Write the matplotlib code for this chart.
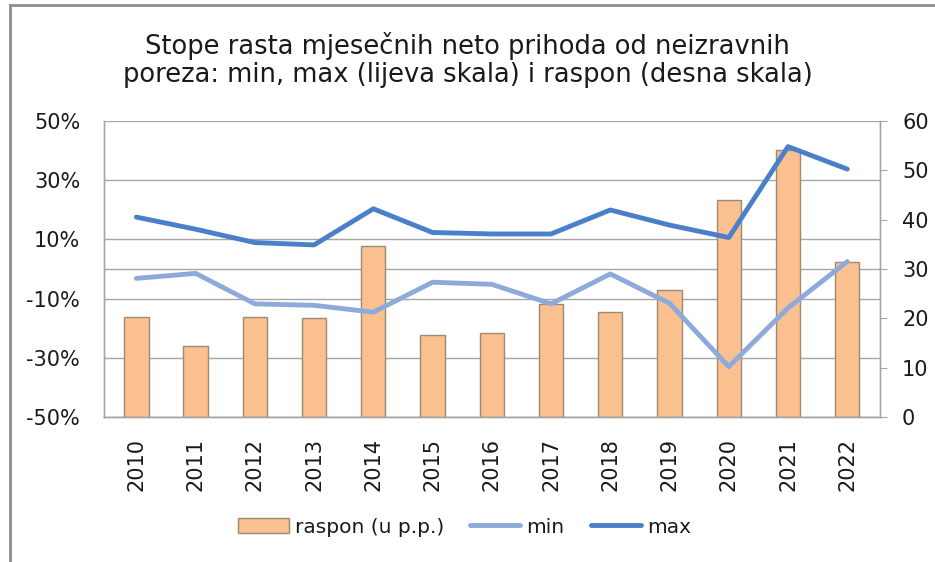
import matplotlib.pyplot as plt
from matplotlib.lines import Line2D
from matplotlib.ticker import FixedLocator

years = ["2010", "2011", "2012", "2013", "2014", "2015", "2016",
         "2017", "2018", "2019", "2020", "2021", "2022"]
raspon = [20.3, 14.4, 20.3, 20.0, 34.7, 16.7, 17.0,
          22.9, 21.3, 25.8, 44.0, 54.1, 31.4]
min_rate = [-3.2, -1.5, -11.8, -12.3, -14.6, -4.5, -5.2,
            -11.8, -1.7, -11.6, -33.0, -13.2, 2.5]
max_rate = [17.5, 13.4, 8.9, 8.1, 20.3, 12.3, 11.8,
            11.8, 19.9, 14.8, 10.6, 41.3, 33.7]
left_ticks = [-50, -30, -10, 10, 30, 50]
right_ticks = [0, 10, 20, 30, 40, 50, 60]

bar_color = "#FAC08F"
bar_edge = "#9C8A78"
min_color = "#8EAADB"
max_color = "#4A7FCA"
grid_color = "#A6A6A6"
text_color = "#1a1a1a"

fig = plt.figure(figsize=(9.35, 5.62), dpi=100)
ax = fig.add_axes([0.111, 0.258, 0.830, 0.527])
ax2 = ax.twinx()
ax.set_zorder(ax2.get_zorder() + 1)
ax.patch.set_visible(False)

x = list(range(len(years)))

# bars on the right scale
ax2.bar(x, raspon, width=0.41, color=bar_color, edgecolor=bar_edge,
        linewidth=1.0, label="raspon (u p.p.)", zorder=2)
ax2.set_ylim(0, 60)
ax2.yaxis.set_major_locator(FixedLocator(right_ticks))
ax2.tick_params(axis="y", length=5, color=grid_color, labelsize=15,
                labelcolor=text_color, pad=11)

# gridlines (left scale) behind bars, plus the 0% axis line
for v in left_ticks:
    ax2.axhline((v + 50) * 0.6, color=grid_color, lw=1.0, zorder=0)
ax2.axhline(30, color=grid_color, lw=1.0, zorder=0)

# lines on the left scale
ax.plot(x, min_rate, color=min_color, lw=3.5, label="min",
        solid_capstyle="round", zorder=3)
ax.plot(x, max_rate, color=max_color, lw=3.5, label="max",
        solid_capstyle="round", zorder=4)
ax.set_ylim(-50, 50)
ax.set_xlim(-0.55, len(years) - 0.45)
ax.yaxis.set_major_locator(FixedLocator(left_ticks))
ax.set_yticklabels([f"{v}%" for v in left_ticks])
ax.tick_params(axis="y", length=0, labelsize=15, labelcolor=text_color,
               pad=17)
ax.set_xticks(x)
ax.set_xticklabels(years, rotation=90, fontsize=15, color=text_color)
ax.tick_params(axis="x", length=0, pad=15)

for a in (ax, ax2):
    a.spines["top"].set_visible(False)
    for side in ("left", "right", "bottom"):
        a.spines[side].set_color(grid_color)
        a.spines[side].set_linewidth(1.0)

fig.text(0.50, 0.893,
         "Stope rasta mjesečnih neto prihoda od neizravnih\n"
         "poreza: min, max (lijeva skala) i raspon (desna skala)",
         ha="center", va="center", fontsize=18.5, color=text_color,
         linespacing=1.12)

h1, l1 = ax2.get_legend_handles_labels()
h2, l2 = ax.get_legend_handles_labels()
fig.legend(h1 + h2, l1 + l2, loc="center", bbox_to_anchor=(0.497, 0.062),
           ncol=3, frameon=False, fontsize=14.5, handlelength=2.5,
           handleheight=0.75, columnspacing=1.3, handletextpad=0.3,
           labelcolor=text_color)

# chart area border (only top and left visible in the reference)
fig.add_artist(Line2D([0.0107, 1.0], [0.991, 0.991], transform=fig.transFigure,
                      color="#8c8c8c", lw=2.0))
fig.add_artist(Line2D([0.0107, 0.0107], [0.0, 0.991], transform=fig.transFigure,
                      color="#8c8c8c", lw=2.0))

fig.savefig("out.png", dpi=100)
